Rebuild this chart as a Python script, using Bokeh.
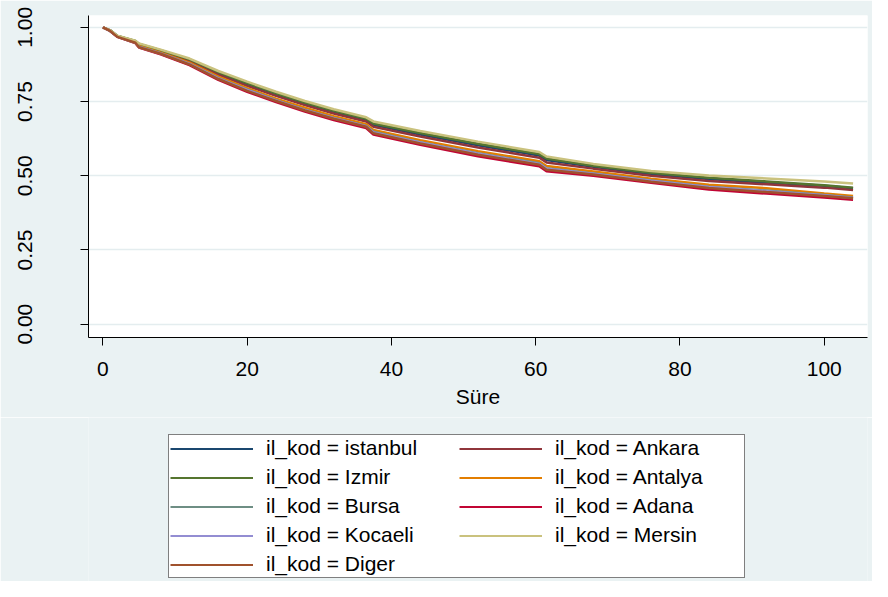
from bokeh.plotting import figure
from bokeh.layouts import column
from bokeh.models import Range1d, Legend, LegendItem, FixedTicker, PrintfTickFormatter
from bokeh.embed import file_html
from bokeh.resources import INLINE

# Survival time (Süre) grid at which curves were read
sure = [0, 1, 2, 4.5, 5, 8, 12, 16, 20, 24, 28, 32, 36.5, 37.5, 44, 52, 60.5, 61.5, 68, 76, 84, 92, 100, 104]

istanbul = [1.000, 0.990, 0.971, 0.953, 0.943, 0.921, 0.890, 0.846, 0.809, 0.774, 0.743, 0.715,
            0.688, 0.672, 0.639, 0.603, 0.568, 0.553, 0.530, 0.506, 0.489, 0.477, 0.466, 0.458]
ankara = [1.000, 0.989, 0.970, 0.952, 0.940, 0.919, 0.886, 0.841, 0.803, 0.769, 0.738, 0.710,
          0.683, 0.665, 0.632, 0.595, 0.561, 0.545, 0.524, 0.500, 0.482, 0.471, 0.460, 0.452]
izmir = [1.000, 0.990, 0.971, 0.954, 0.944, 0.923, 0.892, 0.849, 0.812, 0.778, 0.747, 0.719,
         0.692, 0.676, 0.644, 0.608, 0.573, 0.558, 0.534, 0.510, 0.493, 0.481, 0.468, 0.460]
antalya = [1.000, 0.989, 0.969, 0.950, 0.937, 0.915, 0.881, 0.834, 0.795, 0.760, 0.729, 0.701,
           0.674, 0.654, 0.620, 0.583, 0.549, 0.533, 0.514, 0.490, 0.470, 0.458, 0.440, 0.432]
bursa = [1.000, 0.988, 0.969, 0.949, 0.935, 0.912, 0.877, 0.829, 0.790, 0.755, 0.723, 0.695,
         0.668, 0.648, 0.613, 0.576, 0.542, 0.525, 0.508, 0.484, 0.463, 0.450, 0.435, 0.427]
adana = [1.000, 0.988, 0.968, 0.947, 0.932, 0.909, 0.873, 0.823, 0.783, 0.748, 0.716, 0.688,
         0.661, 0.639, 0.604, 0.566, 0.532, 0.515, 0.500, 0.476, 0.454, 0.440, 0.427, 0.419]
kocaeli = [1.000, 0.988, 0.969, 0.948, 0.934, 0.912, 0.877, 0.828, 0.789, 0.754, 0.722, 0.694,
           0.667, 0.646, 0.612, 0.574, 0.540, 0.524, 0.507, 0.483, 0.462, 0.448, 0.434, 0.425]
mersin = [1.000, 0.990, 0.972, 0.955, 0.946, 0.925, 0.895, 0.853, 0.817, 0.783, 0.752, 0.724,
          0.697, 0.683, 0.651, 0.615, 0.580, 0.565, 0.540, 0.516, 0.501, 0.491, 0.481, 0.474]
diger = [1.000, 0.988, 0.968, 0.948, 0.933, 0.911, 0.875, 0.826, 0.786, 0.752, 0.720, 0.692,
         0.665, 0.643, 0.609, 0.571, 0.537, 0.520, 0.504, 0.480, 0.459, 0.445, 0.432, 0.424]

# Drawing order (Stata plot order) and legend labels
city_names = ["istanbul", "Ankara", "Izmir", "Antalya", "Bursa", "Adana", "Kocaeli", "Mersin", "Diger"]
city_values = [istanbul, ankara, izmir, antalya, bursa, adana, kocaeli, mersin, diger]
city_colors = ["#1A476F", "#90353B", "#55752F", "#E37E00", "#6E8E84",
               "#C10534", "#938DD2", "#CAC27E", "#A0522D"]
legend_order = ["istanbul", "Izmir", "Bursa", "Kocaeli", "Diger", "Ankara", "Antalya", "Adana", "Mersin"]

y_ticks = [0, 0.25, 0.5, 0.75, 1.0]
x_ticks = [0, 20, 40, 60, 80, 100]

FONT = "Liberation Sans"
BG = "#EAF2F3"
LINE_W = 2.5

# ---- main plot ----
p = figure(width=872, height=417, output_backend="svg", toolbar_location=None,
           x_range=Range1d(-2.0, 106.0), y_range=Range1d(-0.045, 1.04),
           min_border_left=88, min_border_right=5, min_border_top=15, min_border_bottom=80)
p.background_fill_color = "white"
p.border_fill_color = BG
p.outline_line_color = None

for name, vals, col in zip(city_names, city_values, city_colors):
    p.line(sure, vals, line_color=col, line_width=LINE_W)

p.xaxis.ticker = FixedTicker(ticks=x_ticks)
p.yaxis.ticker = FixedTicker(ticks=y_ticks)
p.yaxis.formatter = PrintfTickFormatter(format="%.2f")
for ax in (p.xaxis, p.yaxis):
    ax.axis_line_color = "black"
    ax.axis_line_width = 1
    ax.major_tick_line_color = "black"
    ax.major_tick_out = 8
    ax.major_tick_in = 0
    ax.minor_tick_line_color = None
    ax.major_label_text_font = FONT
    ax.major_label_text_font_size = "21px"
    ax.major_label_text_color = "black"
p.yaxis.major_label_orientation = "vertical"
p.yaxis.major_label_standoff = 48
p.xaxis.major_label_standoff = 16
p.xaxis.axis_label = "Süre"
p.xaxis.axis_label_text_font = FONT
p.xaxis.axis_label_text_font_size = "21px"
p.xaxis.axis_label_text_font_style = "normal"
p.xaxis.axis_label_text_color = "black"
p.xaxis.axis_label_standoff = 6

p.xgrid.grid_line_color = None
p.ygrid.grid_line_color = "#E4EDEF"
p.ygrid.grid_line_width = 1.5

# ---- legend panel (same series, kept outside its visible range; only the key shows) ----
q = figure(width=872, height=164, output_backend="svg", toolbar_location=None,
           x_axis_location=None, y_axis_location=None,
           x_range=Range1d(500, 501), y_range=Range1d(500, 501),
           min_border_left=0, min_border_right=0, min_border_top=0, min_border_bottom=0)
q.background_fill_color = BG
q.border_fill_color = BG
q.outline_line_color = None
q.xgrid.grid_line_color = None
q.ygrid.grid_line_color = None

keys = {}
for name, vals, col in zip(city_names, city_values, city_colors):
    keys[name] = q.line(sure, vals, line_color=col, line_width=2.2)

items = [LegendItem(label="il_kod = " + n, renderers=[keys[n]]) for n in legend_order]
legend = Legend(items=items, location=(80, 3), ncols=2,
                label_text_font=FONT, label_text_font_size="21px", label_text_color="black",
                glyph_width=83, glyph_height=23, label_height=23, label_width=188,
                label_standoff=13, spacing=5, padding=1,
                border_line_color="black", border_line_width=1,
                background_fill_color="white", background_fill_alpha=1.0)
q.add_layout(legend, "center")

layout = column(p, q, spacing=0)
open("out.html", "w").write(file_html(layout, INLINE))
